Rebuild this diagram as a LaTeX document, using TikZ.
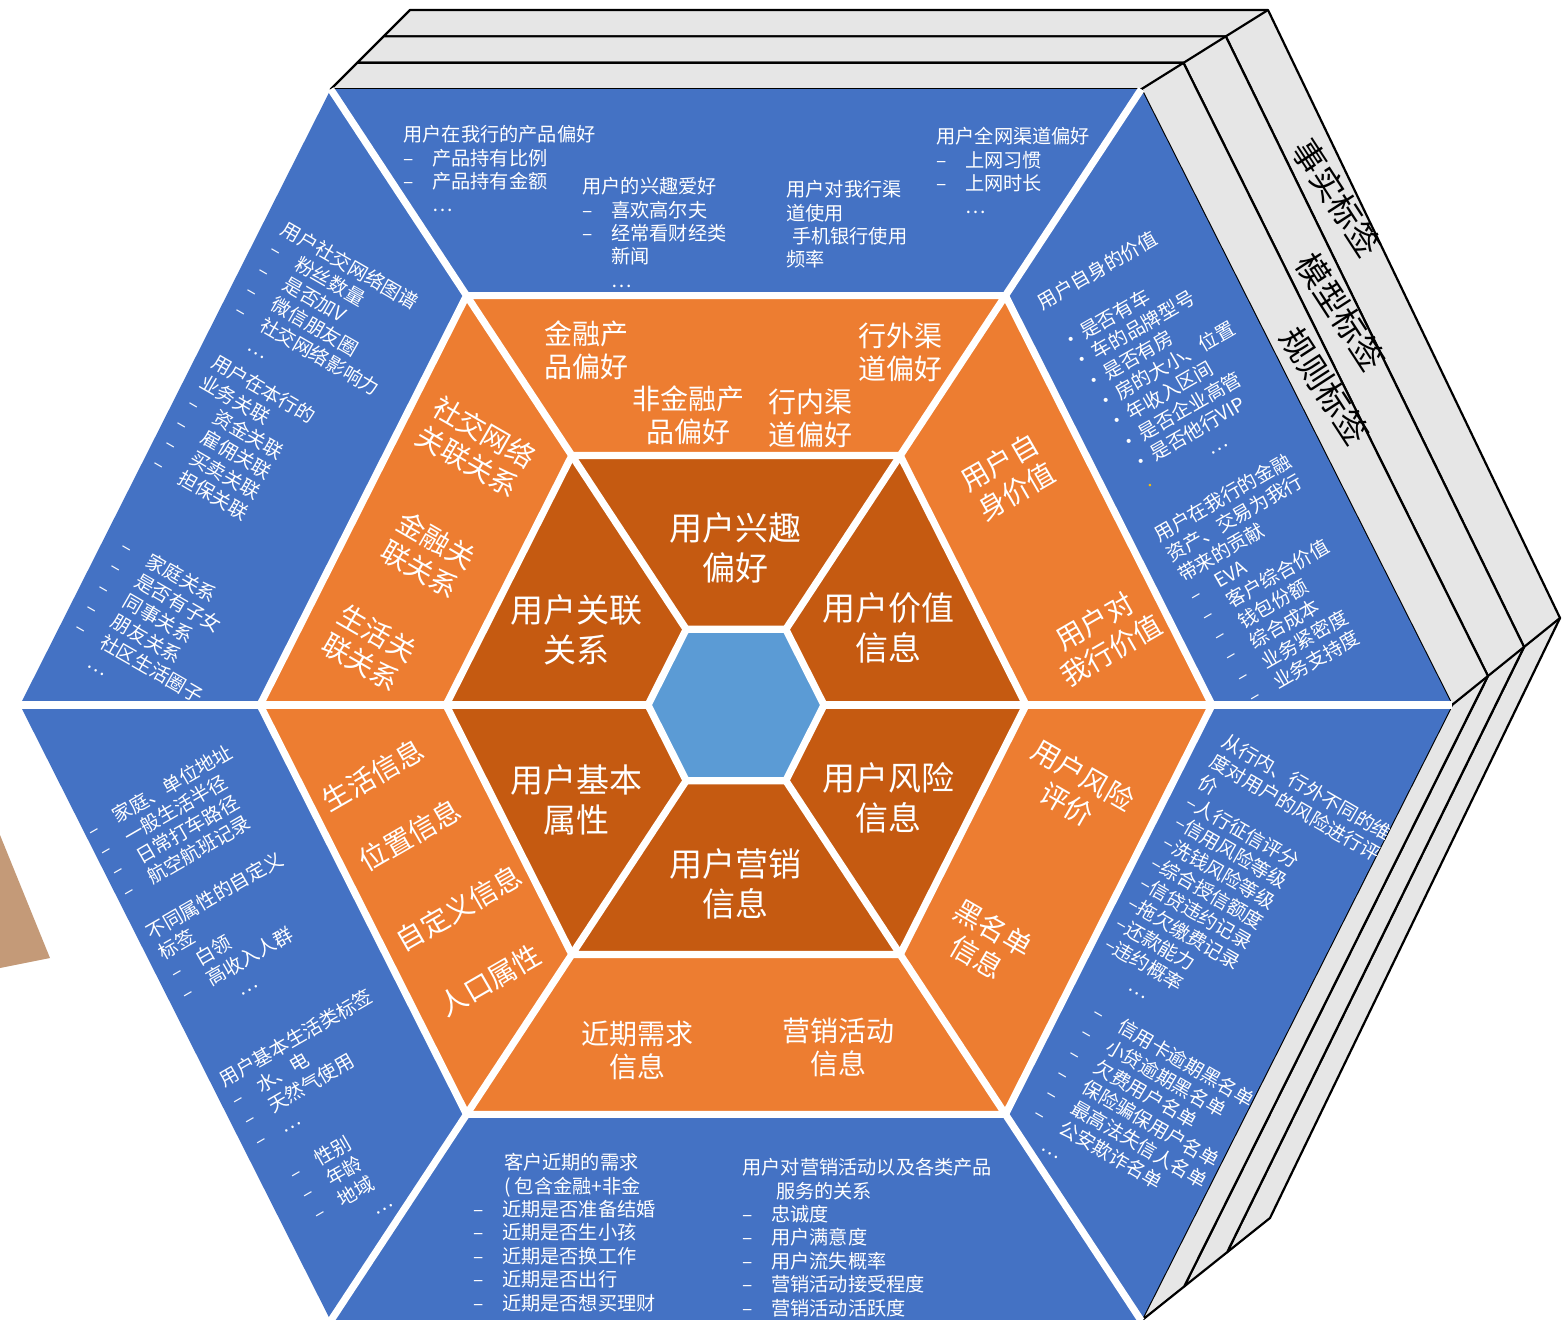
\documentclass[tikz,border=0pt]{standalone}
\usepackage{fontspec}
\newfontfamily\cjk{Noto Sans CJK SC}
\usetikzlibrary{calc}
\definecolor{HexBlue}{HTML}{4472C4}
\definecolor{HexOrange}{HTML}{ED7D31}
\definecolor{HexDark}{HTML}{C55A11}
\definecolor{HexCore}{HTML}{5B9BD5}
\definecolor{SlabGrey}{HTML}{E6E6E6}
\definecolor{TanBit}{HTML}{C49A78}
\definecolor{DotYellow}{HTML}{FFC000}
\newcommand{\lidash}{\makebox[1.5em][l]{–}}
\newcommand{\libul}{\makebox[1.15em][l]{•}}
\newcommand{\hexring}[2]{%
  \path (736-#2,705) coordinate (#1-1)
    (736-0.566*#2,705-0.86*#2) coordinate (#1-2)
    (736+0.566*#2,705-0.86*#2) coordinate (#1-3)
    (736+#2,705) coordinate (#1-4)
    (736+0.566*#2,705+0.86*#2) coordinate (#1-5)
    (736-0.566*#2,705+0.86*#2) coordinate (#1-6);}

\begin{document}
\begin{tikzpicture}[x=0.5pt, y=-0.5pt,
  sector/.style={draw=white, line width=3.6pt},
  slab/.style={fill=SlabGrey, draw=black, line width=1.1pt, line join=round},
  blk/.style={font=\cjk\fontsize{9.6}{11.7}\selectfont, text=white,
              align=left, inner sep=0pt, anchor=north west},
  ring/.style={font=\cjk\fontsize{14}{16.5}\selectfont, text=white,
               align=center, inner sep=0pt},
  core/.style={font=\cjk\fontsize{16.5}{20}\selectfont, text=white,
               align=center, inner sep=0pt},
  slabtxt/.style={font=\cjk\fontsize{16.5}{19}\selectfont, text=black,
                  inner sep=0pt, rotate=-57}]
  \useasboundingbox (0,0) rectangle (1562,1320);
  \fill[white] (0,0) rectangle (1562,1320);
  \fill[TanBit] (0,835) -- (50,958) -- (0,968) -- cycle;

  \hexring{o}{716}
  \hexring{m}{476}
  \hexring{d}{290}
  \hexring{c}{88}

  % stacked tag layers behind
  \coordinate (s3-2) at (410,10);
  \coordinate (s3-3) at (1268,10);
  \coordinate (s3-4) at (1560,618);
  \coordinate (s3-5) at (1270,1218);
  \foreach \v in {2,...,5} {
    \coordinate (s1-\v) at ($(o-\v)!0.333!(s3-\v)$);
    \coordinate (s2-\v) at ($(o-\v)!0.667!(s3-\v)$);
  }
  \foreach \b/\f in {s3/s2, s2/s1, s1/o} {
    \filldraw[slab] (\f-2)--(\b-2)--(\b-3)--(\b-4)--(\b-5)--(\f-5)--(\f-4)--(\f-3)--cycle;
    \draw[slab] (\f-3)--(\b-3) (\f-4)--(\b-4);
  }
  \node[slabtxt] (facttag)  at (1337,198) {事实标签};
  \node[slabtxt] (modeltag) at (1341,312) {模型标签};
  \node[slabtxt] (ruletag)  at (1325,386) {规则标签};

  % rings
  \foreach \i/\j in {1/2,2/3,3/4,4/5,5/6,6/1} {
    \fill[HexBlue] (o-\i)--(o-\j)--(m-\j)--(m-\i)--cycle;
    \fill[HexOrange] (m-\i)--(m-\j)--(d-\j)--(d-\i)--cycle;
    \fill[HexDark] (d-\i)--(d-\j)--(c-\j)--(c-\i)--cycle;
  }
  \fill[HexCore] (c-1)--(c-2)--(c-3)--(c-4)--(c-5)--(c-6)--cycle;

  % top
  \begin{scope}
    \clip (o-2)--(o-3)--(m-3)--(m-2)--cycle;
    \node[blk] (prodpref) at (403,125) {用户在我行的产品偏好\\\lidash 产品持有比例\\\lidash 产品持有金额\\\hspace{1.5em}…};
    \node[blk] (hobby) at (582,177) {用户的兴趣爱好\\\lidash 喜欢高尔夫\\\lidash 经常看财经类\\\hspace{1.5em}新闻\\\hspace{1.5em}…};
    \node[blk] (inchan) at (786,180) {用户对我行渠\\道使用\\\hspace{0.3em}手机银行使用\\频率};
    \node[blk] (allchan) at (936,127) {用户全网渠道偏好\\\lidash 上网习惯\\\lidash 上网时长\\\hspace{1.5em}…};
  \end{scope}
  % upper left
  \begin{scope}
    \clip (o-1)--(o-2)--(m-2)--(m-1)--cycle;
    \node[blk, rotate=-30] (social) at (288,219) {用户社交网络图谱\\\lidash 粉丝数量\\\lidash 是否加V\\\lidash 微信朋友圈\\\lidash 社交网络影响力\\\hspace{1.5em}…};
    \node[blk, rotate=-30] (bizlink) at (218,352) {用户在本行的\\业务关联\\\lidash 资金关联\\\lidash 雇佣关联\\\lidash 买卖关联\\\lidash 担保关联};
    \node[blk, rotate=-30] (lifelink) at (128,536) {\lidash 家庭关系\\\lidash 是否有子女\\\lidash 同事关系\\\lidash 朋友关系\\\lidash 社区生活圈子\\\hspace{1.5em}…};
  \end{scope}
  % upper right
  \begin{scope}
    \clip (o-3)--(o-4)--(m-4)--(m-3)--cycle;
    \node[blk, rotate=30] (selfval) at (1034,296) {用户自身的价值\\\mbox{}\\\libul 是否有车\\\libul 车的品牌型号\\\libul 是否有房\\\libul 房的大小、位置\\\libul 年收入区间\\\libul 是否企业高管\\\libul 是否他行VIP\\\makebox[1.15em][l]{\textcolor{DotYellow}{\fontsize{6}{6}\selectfont •}}\hspace{2.7em}…};
    \node[blk, rotate=30] (contrib) at (1151,528) {用户在我行的金融\\资产、交易为我行\\带来的贡献\\\lidash EVA\\\lidash 客户综合价值\\\lidash 钱包份额\\\lidash 综合成本\\\lidash 业务紧密度\\\lidash 业务支持度};
  \end{scope}
  % lower right
  \begin{scope}
    \clip (o-4)--(o-5)--(m-5)--(m-4)--cycle;
    \node[blk, rotate=-30] (riskeval) at (1228,731) {从行内、行外不同的维\\度对用户的风险进行评\\价\\–人行征信评分\\–信用风险等级\\–洗钱风险等级\\–综合授信额度\\–信贷违约记录\\–拖欠缴费记录\\–还款能力\\–违约概率\\\hspace{2.2em}…};
    \node[blk, rotate=-30] (blacklist) at (1099,1002) {\lidash 信用卡逾期黑名单\\\lidash 小贷逾期黑名单\\\lidash 欠费用户名单\\\lidash 保险骗保用户名单\\\lidash 最高法失信人名单\\\lidash 公安欺诈名单\\\hspace{1.2em}…};
  \end{scope}
  % bottom
  \begin{scope}
    \clip (o-5)--(o-6)--(m-6)--(m-5)--cycle;
    \node[blk] (nearneed) at (473,1153) {\hspace{1.6em}客户近期的需求\\\hspace{1.6em}( 包含金融+非金\\\lidash 近期是否准备结婚\\\lidash 近期是否生小孩\\\lidash 近期是否换工作\\\lidash 近期是否出行\\\lidash 近期是否想买理财};
    \node[blk] (mktrel) at (742,1158) {用户对营销活动以及各类产品\\\hspace{1.75em}服务的关系\\\lidash 忠诚度\\\lidash 用户满意度\\\lidash 用户流失概率\\\lidash 营销活动接受程度\\\lidash 营销活动活跃度};
  \end{scope}
  % lower left
  \begin{scope}
    \clip (o-6)--(o-1)--(m-1)--(m-6)--cycle;
    \node[blk, rotate=30] (place) at (84,824) {\lidash 家庭、单位地址\\\lidash 一般生活半径\\\lidash 日常打车路径\\\lidash 航空航班记录};
    \node[blk, rotate=30] (custom) at (143,926) {不同属性的自定义\\标签\\\lidash 白领\\\lidash 高收入人群\\\hspace{2.6em}…};
    \node[blk, rotate=30] (basiclife) at (216,1073) {用户基本生活类标签\\\lidash 水、电\\\lidash 天然气使用\\\lidash …};
    \node[blk, rotate=30] (demog) at (286,1167) {\lidash 性别\\\lidash 年龄\\\lidash 地域\\\hspace{2.8em}…};
  \end{scope}

  % white separators
  \foreach \i in {1,...,6} \draw[sector] (o-\i)--(c-\i);
  \foreach \h in {m,d,c} \draw[sector] (\h-1)--(\h-2)--(\h-3)--(\h-4)--(\h-5)--(\h-6)--cycle;

  % orange ring
  \node[ring] (finpref)   at (586,350) {金融产\\品偏好};
  \node[ring] (nonfin)    at (688,415) {非金融产\\品偏好};
  \node[ring] (inpref)    at (810,418) {行内渠\\道偏好};
  \node[ring] (outpref)   at (900,352) {行外渠\\道偏好};
  \node[ring, rotate=-30] (socrel)  at (476,447) {社交网络\\关联关系};
  \node[ring, rotate=-30] (finrel)  at (428,555) {金融关\\联关系};
  \node[ring, rotate=-30] (liferel) at (369,648) {生活关\\联关系};
  \node[ring, rotate=30] (ownval)   at (1008,477) {用户自\\身价值};
  \node[ring, rotate=30] (bankval)  at (1103,636) {用户对\\我行价值};
  \node[ring, rotate=30] (lifeinfo) at (373,775) {生活信息};
  \node[ring, rotate=30] (locinfo)  at (410,835) {位置信息};
  \node[ring, rotate=30] (definfo)  at (459,908) {自定义信息};
  \node[ring, rotate=30] (popattr)  at (490,980) {人口属性};
  \node[ring, rotate=-30] (riskrate) at (1075,790) {用户风险\\评价};
  \node[ring, rotate=-30] (blackinfo) at (985,943) {黑名单\\信息};
  \node[ring] (needinfo)  at (637,1050) {近期需求\\信息};
  \node[ring] (actinfo)   at (838,1047) {营销活动\\信息};

  % inner ring
  \node[core] (interest) at (735,548) {用户兴趣\\偏好};
  \node[core] (relation) at (576,630) {用户关联\\关系};
  \node[core] (value)    at (888,628) {用户价值\\信息};
  \node[core] (basic)    at (576,800) {用户基本\\属性};
  \node[core] (risk)     at (888,798) {用户风险\\信息};
  \node[core] (market)   at (735,884) {用户营销\\信息};
\end{tikzpicture}
\end{document}
